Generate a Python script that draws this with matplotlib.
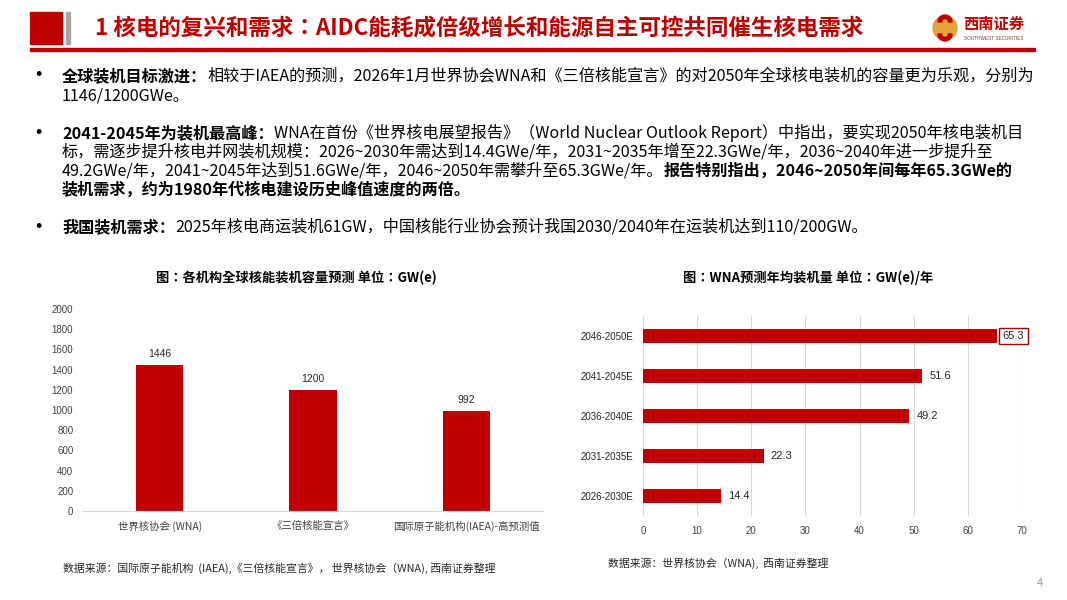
import matplotlib
matplotlib.use('Agg')
import matplotlib.pyplot as plt
from matplotlib.patches import Rectangle, Circle, Wedge

plt.rcParams['font.family'] = ['Noto Sans CJK SC', 'DejaVu Sans']

# ---------------- data ----------------
title = "1 核电的复兴和需求：AIDC能耗成倍级增长和能源自主可控共同催生核电需求"

left_title = "图：各机构全球核能装机容量预测 单位：GW(e)"
left_categories = ["世界核协会 (WNA)", "《三倍核能宣言》", "国际原子能机构(IAEA)-高预测值"]
left_values = [1446, 1200, 992]
left_yticks = [0, 200, 400, 600, 800, 1000, 1200, 1400, 1600, 1800, 2000]
left_source = "数据来源：国际原子能机构  (IAEA),《三倍核能宣言》， 世界核协会（WNA), 西南证券整理"

right_title = "图：WNA预测年均装机量 单位：GW(e)/年"
right_categories = ["2046-2050E", "2041-2045E", "2036-2040E", "2031-2035E", "2026-2030E"]
right_values = [65.3, 51.6, 49.2, 22.3, 14.4]
right_xticks = [0, 10, 20, 30, 40, 50, 60, 70]
right_source = "数据来源：世界核协会（WNA),  西南证券整理"

bullets = [
    [
        [("全球装机目标激进：", True),
         ("相较于IAEA的预测，2026年1月世界协会WNA和《三倍核能宣言》的对2050年全球核电装机的容量更为乐观，分别为", False)],
        [("1146/1200GWe。", False)],
    ],
    [
        [("2041-2045年为装机最高峰：", True),
         ("WNA在首份《世界核电展望报告》（World Nuclear Outlook Report）中指出，要实现2050年核电装机目", False)],
        [("标，需逐步提升核电并网装机规模：2026~2030年需达到14.4GWe/年，2031~2035年增至22.3GWe/年，2036~2040年进一步提升至", False)],
        [("49.2GWe/年，2041~2045年达到51.6GWe/年，2046~2050年需攀升至65.3GWe/年。", False),
         ("报告特别指出，2046~2050年间每年65.3GWe的", True)],
        [("装机需求，约为1980年代核电建设历史峰值速度的两倍。", True)],
    ],
    [
        [("我国装机需求：", True),
         ("2025年核电商运装机61GW，中国核能行业协会预计我国2030/2040年在运装机达到110/200GW。", False)],
    ],
]
bullet_line_y = [[76, 96], [133, 152, 171, 190], [227]]

# ---------------- style ----------------
RED = '#C00000'
W, H = 1067, 600
LAT = ['Liberation Sans', 'Noto Sans CJK SC']
TC = ['Noto Sans CJK TC', 'DejaVu Sans']

fig = plt.figure(figsize=(W / 100, H / 100), dpi=100)
bg = fig.add_axes([0, 0, 1, 1])
bg.set_xlim(0, W)
bg.set_ylim(H, 0)
bg.axis('off')

# header
bg.add_patch(Rectangle((30, 12), 32, 32, color=RED))
bg.add_patch(Rectangle((66, 12), 4, 32, color='#A6A6A6'))
bg.text(95, 28, title, fontsize=16.2, fontweight='bold', color=RED, va='center', family=TC)
bg.add_patch(Rectangle((30, 48), 1005, 3, color=RED))

# logo
bg.add_patch(Circle((945, 28), 12, color='#E3A33A'))
bg.add_patch(Wedge((945, 22), 7, 180, 360, width=3.5, color=RED))
bg.add_patch(Wedge((945, 34), 7, 0, 180, width=3.5, color=RED))
bg.text(994, 24, "西南证券", fontsize=11, fontweight='bold', color=RED, ha='center', va='center')
bg.text(994, 38, "SOUTHWEST SECURITIES", fontsize=3.4, color='#7F3F1F', ha='center', va='center',
        family=LAT)

# bullets
renderer = fig.canvas.get_renderer()
BFS = 11.6
for bi, blines in enumerate(bullets):
    for li, segs in enumerate(blines):
        y = bullet_line_y[bi][li]
        if li == 0:
            bg.text(38, y, "•", fontsize=13, color='black', va='center', ha='center', family=LAT)
        x = 62
        for txt, bold in segs:
            t = bg.text(x, y, txt, fontsize=BFS, fontweight='bold' if bold else 'normal',
                        color='black', va='center', ha='left')
            bb = t.get_window_extent(renderer)
            x = bb.x1

# ---------------- left chart ----------------
bg.text(296, 278, left_title, fontsize=9.5, fontweight='bold', ha='center', va='center', family=TC)
axL = fig.add_axes([83 / W, 1 - 511 / H, 460 / W, 202 / H])
xl = list(range(len(left_categories)))
axL.bar(xl, left_values, width=0.31, color=RED)
axL.set_xlim(-0.5, 2.5)
axL.set_ylim(0, 2000)
axL.set_yticks(left_yticks)
axL.set_yticklabels([str(v) for v in left_yticks], family=LAT, fontsize=7, color='#404040')
axL.set_xticks(xl)
axL.set_xticklabels(left_categories, fontsize=7.5, color='#404040')
for s in ['top', 'right', 'left']:
    axL.spines[s].set_visible(False)
axL.spines['bottom'].set_color('#D9D9D9')
axL.spines['bottom'].set_linewidth(0.8)
axL.tick_params(axis='y', length=0, pad=7)
axL.tick_params(axis='x', length=0, pad=7)
for i, v in enumerate(left_values):
    axL.annotate(str(v), (i, v), xytext=(0, 4), textcoords='offset points',
                 ha='center', va='bottom', fontsize=7.5, color='#262626', family=LAT)
bg.text(63, 568, left_source, fontsize=7.8, color='#262626', va='center')

# ---------------- right chart ----------------
bg.text(808, 278, right_title, fontsize=9.5, fontweight='bold', ha='center', va='center', family=TC)
axR = fig.add_axes([643 / W, 1 - 516 / H, 379 / W, 200 / H])
yr = list(range(len(right_categories)))
axR.barh(yr, right_values, height=0.33, color=RED, zorder=3)
axR.set_xlim(0, 70)
axR.set_ylim(4.5, -0.5)
axR.set_xticks(right_xticks)
axR.set_xticklabels([str(v) for v in right_xticks], family=LAT, fontsize=7, color='#404040')
axR.set_yticks(yr)
axR.set_yticklabels(right_categories, family=LAT, fontsize=7, color='#262626')
for s in axR.spines.values():
    s.set_visible(False)
axR.grid(axis='x', color='#D9D9D9', linewidth=0.8, zorder=0)
axR.tick_params(axis='x', length=0, pad=7)
axR.tick_params(axis='y', length=0, pad=7)
for i, v in enumerate(right_values):
    if i == 0:
        axR.annotate(f"{v}", (v, i), xytext=(4.5, 0), textcoords='offset points',
                     ha='left', va='center', fontsize=8, color='#262626', family=LAT,
                     bbox=dict(boxstyle='square,pad=0.3', facecolor='white', edgecolor='#A00000', linewidth=1))
    else:
        axR.annotate(f"{v}", (v, i), xytext=(5, 0), textcoords='offset points',
                     ha='left', va='center', fontsize=8, color='#262626', family=LAT)
bg.text(608, 563, right_source, fontsize=7.8, color='#262626', va='center')

# page number
bg.text(1040, 583, "4", fontsize=8, color='#8C8C8C', ha='center', va='center', family=LAT)

fig.savefig('out.png', dpi=100)
